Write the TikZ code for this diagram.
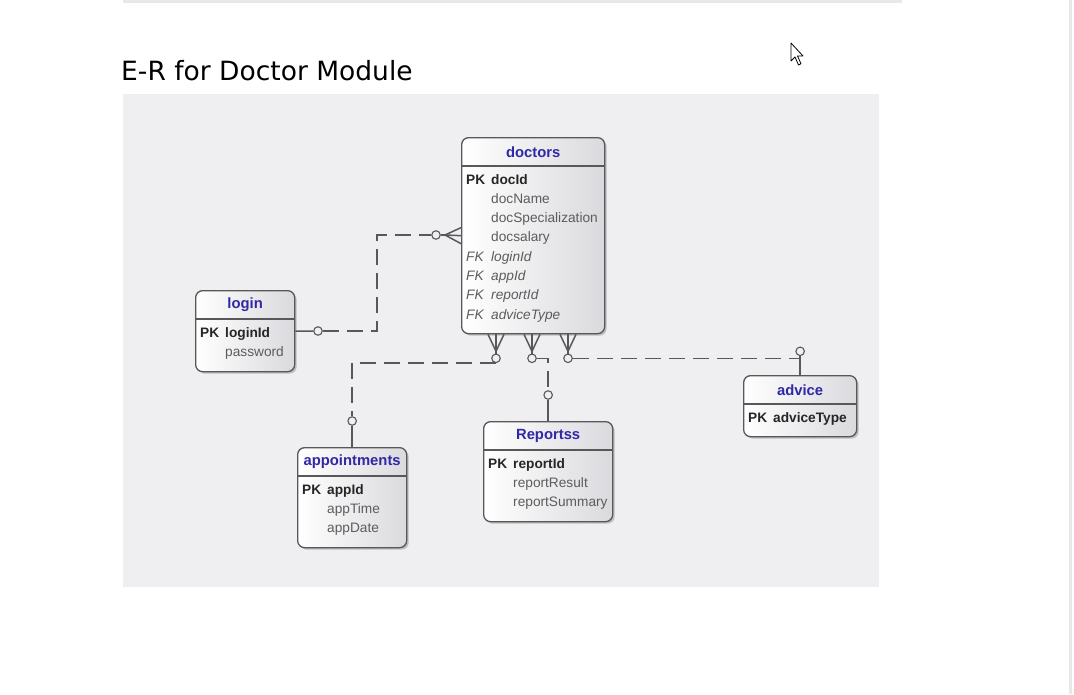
\documentclass[tikz,border=0pt]{standalone}
\usepackage{fontspec}
\setmainfont{Liberation Sans}
\newfontfamily\titlefont{DejaVu Sans}
\usetikzlibrary{calc, shadows}
\definecolor{bg}{RGB}{239, 239, 242}
\definecolor{strip}{RGB}{232, 232, 234}
\definecolor{edge}{RGB}{88, 88, 88}
\definecolor{head}{RGB}{48, 40, 165}
\definecolor{attr}{RGB}{92, 92, 92}
\definecolor{boxshade}{RGB}{218, 218, 222}

\tikzset{
  tbl/.style={draw=edge, line width=1.3pt, rounded corners=7pt, inner sep=0,
              left color=white, right color=boxshade,
              drop shadow={shadow xshift=2pt, shadow yshift=-2pt, opacity=0.35, fill=black!60}},
  headtext/.style={font=\fontsize{14.8}{17}\selectfont\bfseries, text=head, inner sep=0},
  pk/.style={font=\fontsize{13.7}{16}\selectfont\bfseries, text=black!85, inner sep=0,
             text height=9.5pt, text depth=2.5pt},
  plain/.style={font=\fontsize{13.7}{16}\selectfont, text=attr, inner sep=0,
                text height=9.5pt, text depth=2.5pt},
  fk/.style={font=\fontsize{13.7}{16}\selectfont\itshape, text=attr, inner sep=0,
             text height=9.5pt, text depth=2.5pt},
  rel/.style={draw=edge, line width=1.5pt, dash pattern=on 16pt off 8pt},
  solidrel/.style={draw=edge, line width=1.5pt},
  opt/.style={circle, draw=edge, fill=bg, line width=1.1pt, minimum size=8.5pt, inner sep=0}
}

\newcommand{\drawtable}[6]{
  % name, left, top, width, height, title
  \node[tbl, minimum width=#4pt, minimum height=#5pt, anchor=north west] (#1) at (#2, #3) {};
  \node[headtext] (#1-head) at ($(#1.north)+(0,15)$) {#6};
  \draw[edge, line width=1.1pt] ($(#1.north west)+(0,29)$) -- ($(#1.north east)+(0,29)$);
}

\newcommand{\drawrows}[2]{
  \foreach \key/\attr/\kind [count=\n] in {#2} {
    \node[\kind, anchor=west] (#1-key\n) at ($(#1.north west)+(5, {43.5 + (\n-1)*19.3})$) {\key};
    \node[\kind, anchor=west] (#1-attr\n) at ($(#1.north west)+(30, {43.5 + (\n-1)*19.3})$) {\attr};
  }
}

\begin{document}
\begin{tikzpicture}[x=1pt, y=-1pt]

  \useasboundingbox (0, 0) rectangle (1074, 694);
  \fill[white] (0, 0) rectangle (1074, 694);
  \fill[strip] (123, 0) rectangle (902, 3);
  \fill[strip] (1069, 0) rectangle (1072, 694);
  \fill[bg] (123, 94) rectangle (879, 587);

  \node[font=\titlefont\fontsize{26.5}{30}\selectfont, anchor=base west, inner sep=0] (title)
    at (121, 80) {E-R for Doctor Module};

  % mouse pointer
  \draw[black, fill=white, line width=0.8pt, line join=round]
    (791, 43) -- ++(0, 18) -- ++(4, -4) -- ++(3.5, 8) -- ++(2.5, -1.2)
    -- ++(-3.5, -7.8) -- ++(5.5, 0) -- cycle;

  % tables
  \drawtable{doctors}{461}{137}{143}{196}{doctors}
  \drawrows{doctors}{PK/docId/pk, {}/docName/plain, {}/docSpecialization/plain,
                     {}/docsalary/plain, FK/loginId/fk, FK/appId/fk,
                     FK/reportId/fk, FK/adviceType/fk}

  \drawtable{login}{195}{290}{99}{81}{login}
  \drawrows{login}{PK/loginId/pk, {}/password/plain}

  \drawtable{appointments}{297}{447}{109}{100}{appointments}
  \drawrows{appointments}{PK/appId/pk, {}/appTime/plain, {}/appDate/plain}

  \drawtable{reports}{483}{421}{129}{100}{Reportss}
  \drawrows{reports}{PK/reportId/pk, {}/reportResult/plain, {}/reportSummary/plain}

  \drawtable{advice}{743}{375}{113}{61}{advice}
  \drawrows{advice}{PK/adviceType/pk}

  % login -- doctors
  \node[opt] (lo) at (318, 331) {};
  \node[opt] (dlo) at (436, 235) {};
  \coordinate (dl) at (445, 235);
  \coordinate (lbend) at (377, 235);
  \draw[solidrel] (login.east) -- (lo);
  \draw[rel] (lo) -| (lbend) -- (dlo);
  \draw[solidrel] (dlo) -- (dl);
  \foreach \d in {-8, 0, 8} {
    \draw[solidrel] (dl) -- ($(doctors.west)+(0, \d)$);
  }

  % crow feet under doctors
  \foreach \x/\name in {35/app, 71/rep, 107/adv} {
    \coordinate (\name-tip) at ($(doctors.south west)+(\x, 17)$);
    \node[opt] (\name-d) at ($(doctors.south west)+(\x, 24)$) {};
    \draw[solidrel] (\name-d) -- (\name-tip);
    \foreach \d in {-8, 0, 8} {
      \draw[solidrel] (\name-tip) -- ($(doctors.south west)+(\x+\d, 0)$);
    }
  }

  % doctors -- appointments
  \node[opt] (app-o) at ($(appointments.north)+(0, -26)$) {};
  \draw[rel] (app-d.south) -| (app-o);
  \draw[solidrel] (app-o) -- (appointments.north);

  % doctors -- Reportss
  \node[opt] (rep-o) at ($(reports.north)+(0, -26)$) {};
  \draw[rel] (rep-d) -| (rep-o);
  \draw[solidrel] (rep-o) -- (reports.north);

  % doctors -- advice
  \coordinate (adv-bend) at (adv-d -| advice.north);
  \node[opt] (adv-o) at ($(adv-bend)+(0, -7)$) {};
  \draw[rel] (adv-d) -- (adv-bend);
  \draw[solidrel] (adv-o) -- (advice.north);

\end{tikzpicture}
\end{document}
